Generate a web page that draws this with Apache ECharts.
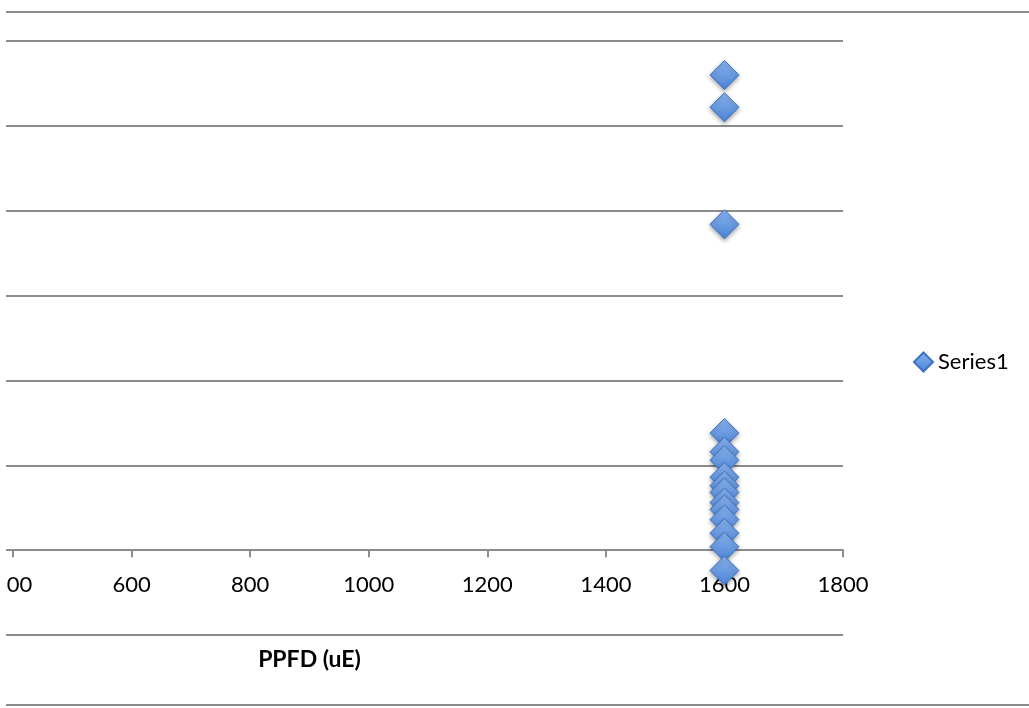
<!DOCTYPE html>
<html>
<head>
<meta charset="utf-8">
<title>PPFD scatter</title>
<script src="https://cdn.jsdelivr.net/npm/echarts@6/dist/echarts.min.js"></script>
<style>
  html, body { margin: 0; padding: 0; background: #ffffff; }
  #chart { width: 1029px; height: 708px; }
</style>
</head>
<body>
<div id="chart"></div>
<script>
// Measurements: light level (PPFD, uE) and the response read at that level
const seriesName = 'Series1';
const ppfd = [1600, 1600, 1600, 1600, 1600, 1600, 1600, 1600, 1600, 1600, 1600, 1600, 1600, 1600, 1600];
const response = [28.0, 26.1, 19.2, 6.9, 5.8, 5.3, 4.3, 3.8, 3.4, 2.8, 2.4, 1.8, 1.0, 0.2, -1.2];

// Axis settings
const xMin = 0, xMax = 1800, xStep = 200;
const yMin = -5, yMax = 30, yStep = 5;
const xTitle = 'PPFD (uE)';

const points = ppfd.map((x, i) => [x, response[i]]);

const gridGrey = '#8c8c8c';
const fontFamily = 'Lato, "Open Sans", "Liberation Sans", sans-serif';

const chart = echarts.init(document.getElementById('chart'), null, { renderer: 'canvas' });

chart.setOption({
  animation: false,
  backgroundColor: '#ffffff',
  grid: { left: -224, right: 186, top: 41, bottom: 73, containLabel: false, outerBoundsMode: 'none' },
  legend: {
    show: true,
    orient: 'vertical',
    left: 908,
    top: 346,
    itemWidth: 19,
    itemHeight: 19,
    icon: 'diamond',
    textStyle: { fontFamily: fontFamily, fontSize: 22, color: '#000000' },
    data: [seriesName]
  },
  xAxis: {
    type: 'value',
    min: xMin,
    max: xMax,
    interval: xStep,
    name: xTitle,
    nameLocation: 'middle',
    nameGap: 13,
    nameTextStyle: { fontFamily: fontFamily, fontSize: 23, fontWeight: 'bold', color: '#000000' },
    axisLine: { show: true, onZero: true, lineStyle: { color: gridGrey, width: 2 } },
    axisTick: { show: true, length: 7, lineStyle: { color: gridGrey, width: 2 } },
    axisLabel: {
      show: true, margin: -61, fontFamily: fontFamily, fontSize: 22, color: '#000000',
      formatter: (v) => String(v)
    },
    splitLine: { show: false }
  },
  yAxis: {
    type: 'value',
    min: yMin,
    max: yMax,
    interval: yStep,
    axisLine: { show: false },
    axisTick: { show: false },
    axisLabel: { show: true, fontFamily: fontFamily, fontSize: 22, color: '#000000' },
    splitLine: { show: true, lineStyle: { color: gridGrey, width: 2 } }
  },
  series: [{
    name: seriesName,
    type: 'scatter',
    symbol: 'diamond',
    symbolSize: 29,
    clip: false,
    data: points,
    itemStyle: {
      color: new echarts.graphic.LinearGradient(0, 0, 0, 1, [
        { offset: 0, color: '#8ab3ee' },
        { offset: 1, color: '#4a83d6' }
      ]),
      borderColor: '#3f73c2',
      borderWidth: 1,
      shadowBlur: 4,
      shadowOffsetY: 2,
      shadowColor: 'rgba(0,0,0,0.35)',
      opacity: 1
    },
    emphasis: { disabled: true }
  }],
  graphic: [
    // outer frame rules above and below the chart
    { type: 'line', z: 100, shape: { x1: 6, y1: 12, x2: 1029, y2: 12 }, style: { stroke: gridGrey, lineWidth: 2 } },
    { type: 'line', z: 100, shape: { x1: 6, y1: 705, x2: 1029, y2: 705 }, style: { stroke: gridGrey, lineWidth: 2 } },
    // left margin
    { type: 'rect', z: 101, shape: { x: 0, y: 0, width: 6, height: 708 }, style: { fill: '#ffffff' } }
  ]
});
</script>
</body>
</html>
